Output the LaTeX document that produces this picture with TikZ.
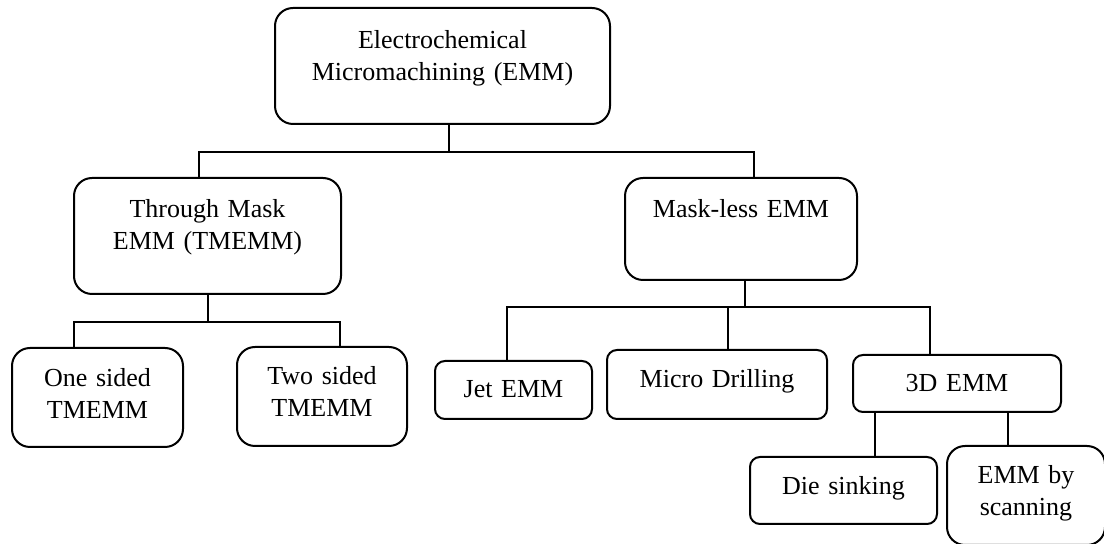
\documentclass[tikz,border=0pt]{standalone}
\usepackage{fontspec}
\setmainfont{Liberation Serif}
\begin{document}
\begin{tikzpicture}[x=0.5pt, y=-0.5pt, line width=1pt,
  box/.style={draw, line width=1pt, align=center, inner sep=0pt,
    font=\fontsize{13}{15.75}\selectfont},
  bigbox/.style={box, rounded corners=9pt},
  smallbox/.style={box, rounded corners=5pt}]
\useasboundingbox (0,0) rectangle (1104,544);

\node [bigbox, text width=167.5pt, text height=20.5pt, text depth=37.5pt] (emm) at (442.5,66) {Electrochemical\\Micromachining (EMM)};
\node [bigbox, text width=133.5pt, text height=20pt, text depth=38pt] (tm) at (207.5,236) {Through Mask\\EMM (TMEMM)};
\node [bigbox, text width=116pt, text height=20pt, text depth=31pt] (ml) at (741,229) {Mask-less EMM};

\node [bigbox, text width=85.5pt, text height=19.5pt, text depth=30pt] (one) at (97.5,397.5) {One sided\\TMEMM};
\node [bigbox, text width=85pt, text height=19pt, text depth=30.5pt] (two) at (322,396.5) {Two sided\\TMEMM};

\node [smallbox, text width=78.5pt, text height=18.5pt, text depth=10.5pt] (jet) at (513.5,390) {Jet EMM};
\node [smallbox, text width=110pt, text height=19pt, text depth=15.5pt] (drill) at (717,384.5) {Micro Drilling};
\node [smallbox, text width=104pt, text height=18.5pt, text depth=10pt] (thd) at (957,383.5) {3D EMM};

\node [smallbox, text width=93.5pt, text height=19pt, text depth=14.5pt] (die) at (843.5,490.5) {Die sinking};
\node [bigbox, text width=79pt, text height=19pt, text depth=30.5pt] (scan) at (1026,495.5) {EMM by\\scanning};

% first level
\coordinate (j1) at (449,152);
\draw ([xshift=3.25pt]emm.south) -- (j1);
\draw ([xshift=-4.25pt]tm.north) |- (j1) -| ([xshift=6.5pt]ml.north);

% through mask
\coordinate (j2) at (207.5,322);
\draw (tm.south) -- (j2);
\draw ([xshift=-11.75pt]one.north) |- (j2) -| ([xshift=9pt]two.north);

% mask-less
\coordinate (j3) at (745,307);
\draw ([xshift=2pt]ml.south) -- (j3);
\draw ([xshift=-3.25pt]jet.north) |- (j3) -| ([xshift=-13.5pt]thd.north);
\draw ([xshift=5.5pt]drill.north) |- (j3);

% 3D EMM
\draw ([xshift=-41pt]thd.south) -- ([xshift=15.75pt]die.north);
\draw ([xshift=25.5pt]thd.south) -- ([xshift=-9pt]scan.north);
\end{tikzpicture}
\end{document}
